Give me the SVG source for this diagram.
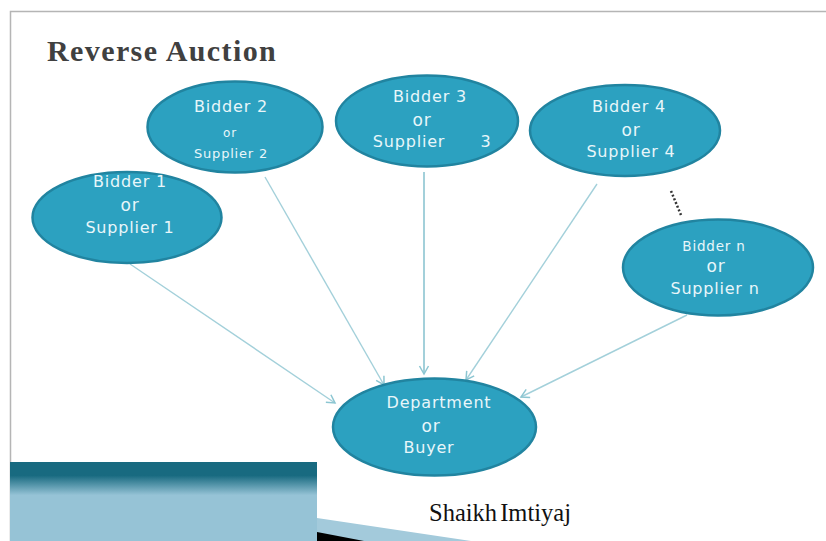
<svg xmlns="http://www.w3.org/2000/svg" width="826" height="541" viewBox="0 0 826 541">
<defs>
<linearGradient id="band" x1="0" y1="0" x2="0" y2="1">
<stop offset="0" stop-color="#186a80"/><stop offset="0.17" stop-color="#186a80"/><stop offset="0.42" stop-color="#96c3d6"/><stop offset="1" stop-color="#96c3d6"/>
</linearGradient>
<marker id="arrow" markerWidth="12" markerHeight="12" refX="10" refY="6" orient="auto" markerUnits="userSpaceOnUse">
<path d="M2 1.500L10 6L2 10.500" fill="none" stroke="#8cc6d2" stroke-width="1.500"/>
</marker>
<style>
.n{fill:#2ca1c0;stroke:#2184a0;stroke-width:2.500}
.l{font-family:"DejaVu Sans",sans-serif;fill:#e8f6fa;text-anchor:middle;font-size:16px;letter-spacing:.8px}
.c{stroke:#a3d0da;stroke-width:1.400;fill:none;marker-end:url(#arrow)}
</style>
</defs>
<rect width="826" height="541" fill="#fff"/>
<path d="M10.500 541V11.500H826" fill="none" stroke="#b5b5b5" stroke-width="1.500"/>
<text x="47" y="61" font-family="Liberation Serif,serif" font-weight="bold" font-size="30" letter-spacing="1.400" fill="#404040">Reverse Auction</text>
<g id="decor">
<polygon points="317,518 471,541 317,541" fill="#a3cadb"/>
<polygon points="317,532 364,541 317,541" fill="#000"/>
<rect x="10" y="462" width="307" height="79" fill="url(#band)"/>
</g>
<g id="connectors">
<line class="c" x1="130" y1="264" x2="335" y2="403"/>
<line class="c" x1="265" y1="177" x2="384" y2="385"/>
<line class="c" x1="424" y1="172" x2="424" y2="374" style="stroke-width:2"/>
<line class="c" x1="597" y1="184" x2="466" y2="380"/>
<line class="c" x1="687" y1="315" x2="521" y2="397"/>
<line x1="671" y1="191" x2="681" y2="215" stroke="#333" stroke-width="2.500" stroke-dasharray="2 2"/>
</g>
<g id="bidder1"><ellipse class="n" cx="127" cy="217.500" rx="94.500" ry="45.500"/>
<text class="l" x="130" y="187">Bidder 1</text><text class="l" x="130" y="211" style="font-size:17px">or</text><text class="l" x="130" y="233">Supplier 1</text></g>
<g id="bidder2"><ellipse class="n" cx="235" cy="127" rx="87.500" ry="45.500"/>
<text class="l" x="231" y="112">Bidder 2</text><text class="l" x="230" y="137" style="font-size:12px">or</text><text class="l" x="231" y="158" style="font-size:13px">Supplier 2</text></g>
<g id="bidder3"><ellipse class="n" cx="427" cy="121" rx="91" ry="45.500"/>
<text class="l" x="430" y="102">Bidder 3</text><text class="l" x="422" y="126" style="font-size:17px">or</text><text class="l" x="409" y="147">Supplier</text><text class="l" x="486" y="147">3</text></g>
<g id="bidder4"><ellipse class="n" cx="625" cy="130.500" rx="95" ry="45.500"/>
<text class="l" x="629" y="112">Bidder 4</text><text class="l" x="631" y="136" style="font-size:17px">or</text><text class="l" x="631" y="157">Supplier 4</text></g>
<g id="biddern"><ellipse class="n" cx="718" cy="267.500" rx="95" ry="48"/>
<text class="l" x="714" y="251" style="font-size:13.500px">Bidder n</text><text class="l" x="716" y="272" style="font-size:17px">or</text><text class="l" x="715" y="294">Supplier n</text></g>
<g id="buyer"><ellipse class="n" cx="434.500" cy="427" rx="101.500" ry="48.500"/>
<text class="l" x="439" y="408">Department</text><text class="l" x="431" y="432" style="font-size:17px">or</text><text class="l" x="429" y="453">Buyer</text></g>
<text x="429" y="521" font-family="Liberation Serif,serif" font-size="24.500" word-spacing="-3" fill="#111">Shaikh Imtiyaj</text>
</svg>
